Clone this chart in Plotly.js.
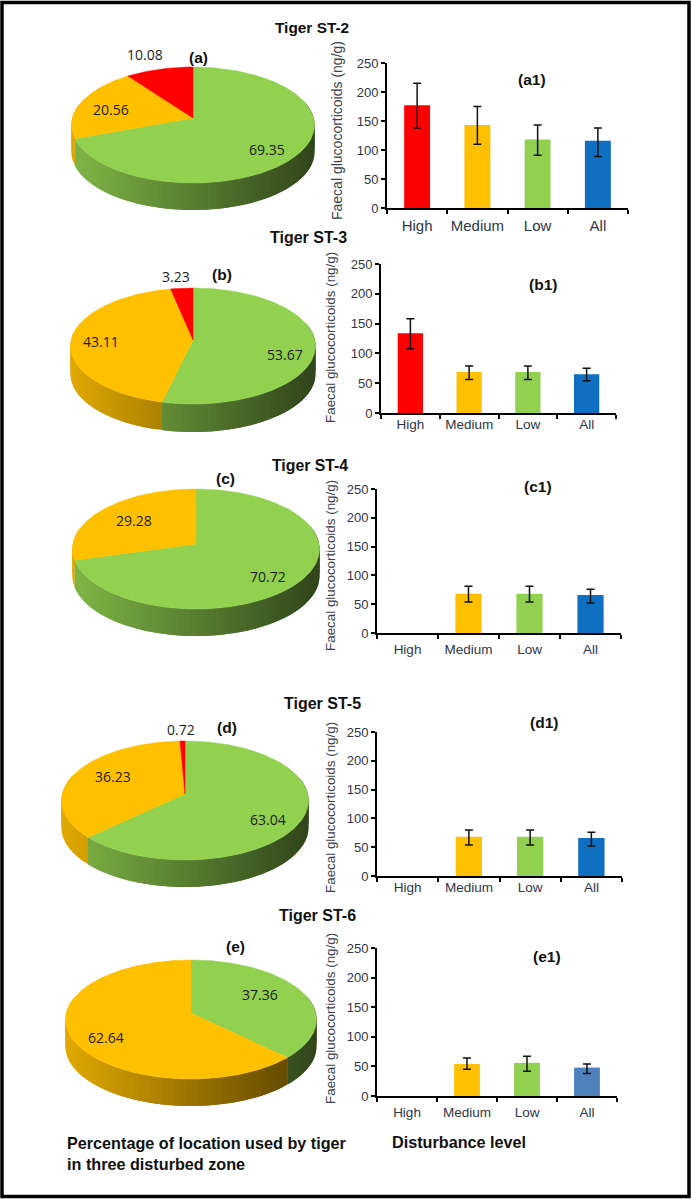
<!DOCTYPE html>
<html>
<head>
<meta charset="utf-8">
<script src="https://cdn.plot.ly/plotly-3.0.1.min.js"></script>
<style>html,body{margin:0;padding:0;background:#fff}#chart{width:691px;height:1199px}</style>
</head>
<body>
<div id="chart"></div>
<script>
// ---- data ----
var categories = ['High', 'Medium', 'Low', 'All'];

// pie shares, clockwise from 12 o'clock: Low (green), Medium (orange), High (red)
var st2Shares = [69.35, 20.56, 10.08];
var st3Shares = [53.67, 43.11, 3.23];
var st4Shares = [70.72, 29.28, 0];
var st5Shares = [63.04, 36.23, 0.72];
var st6Shares = [37.36, 62.64, 0];

// bars: High, Medium, Low, All
var st2Means = [177, 143, 118, 116];
var st2Upper = [215, 175, 143, 138];
var st2Lower = [138, 110, 91, 89];
var st3Means = [134, 69, 69, 65];
var st3Upper = [158, 79, 79, 75];
var st3Lower = [108, 56, 56, 54];
var st4Means = [null, 68, 68, 66];
var st4Upper = [null, 81, 81, 76];
var st4Lower = [null, 54, 54, 52];
var st5Means = [null, 68, 68, 66];
var st5Upper = [null, 80, 80, 76];
var st5Lower = [null, 54, 54, 52];
var st6Means = [null, 54, 56, 48];
var st6Upper = [null, 64, 67, 54];
var st6Lower = [null, 45, 42, 38];

var titles = ['Tiger ST-2', 'Tiger ST-3', 'Tiger ST-4', 'Tiger ST-5', 'Tiger ST-6'];
var pieTags = ['(a)', '(b)', '(c)', '(d)', '(e)'];
var barTags = ['(a1)', '(b1)', '(c1)', '(d1)', '(e1)'];
var yTitle = 'Faecal glucocorticoids (ng/g)';
var footLeft = 'Percentage of location used by tiger<br>in three disturbed zone';
var footRight = 'Disturbance level';

// ---- styles and placement (pixels of the 691x1199 page) ----
var W = 691, H = 1199;
var sliceRGB = [[146, 208, 80], [255, 192, 0], [255, 0, 0]];
var barColors = ['#ff0000', '#ffc000', '#92d050', '#0f6fc0'];
var tickColor = '#2e3648';

var panels = [
  {shares: st2Shares, means: st2Means, up: st2Upper, lo: st2Lower,
   cx: 193, cy: 118, top: 67, bot: 183, left: 71, right: 314, depth: 27,
   title: [312, 27], titleSize: 15.4, tag: [198, 57],
   vals: [[267, 149], [111, 109], [145, 54]],
   ax: {l: 387, r: 628, t: 63, b: 208}, barTag: [532, 79], catSize: 15, standoff: 3,
   yt: [337, 131, 14]},
  {shares: st3Shares, means: st3Means, up: st3Upper, lo: st3Lower,
   cx: 193, cy: 340, top: 288, bot: 404, left: 70, right: 315, depth: 28,
   title: [308, 237], titleSize: 16, tag: [222, 274],
   vals: [[285, 354], [101, 341], [176, 276]],
   ax: {l: 381, r: 616, t: 264, b: 413}, barTag: [543, 284], catSize: 13.5, standoff: -2,
   yt: [330, 338, 13.4]},
  {shares: st4Shares, means: st4Means, up: st4Upper, lo: st4Lower,
   cx: 196, cy: 544, top: 489, bot: 609, left: 72, right: 319, depth: 27,
   title: [310, 465], titleSize: 15.8, tag: [225, 478],
   vals: [[268, 576], [134, 520], null],
   ax: {l: 377, r: 621, t: 489, b: 633}, barTag: [538, 486], catSize: 13.5, standoff: 3,
   yt: [330, 566, 13.4]},
  {shares: st5Shares, means: st5Means, up: st5Upper, lo: st5Lower,
   cx: 185, cy: 794, top: 741, bot: 860, left: 62, right: 309, depth: 27,
   title: [322, 703], titleSize: 16, tag: [227, 727],
   vals: [[268, 819], [113, 776], [181, 729]],
   ax: {l: 377, r: 622, t: 732, b: 876}, barTag: [544, 722], catSize: 13.5, standoff: -2,
   yt: [330, 808, 13.4]},
  {shares: st6Shares, means: st6Means, up: st6Upper, lo: st6Lower,
   cx: 191, cy: 1013, top: 960, bot: 1079, left: 66, right: 317, depth: 27,
   title: [317, 915], titleSize: 16, tag: [235, 946],
   vals: [[260, 994], [106, 1037], null],
   ax: {l: 377, r: 617, t: 948, b: 1096}, barTag: [547, 956], catSize: 13.5, standoff: 3,
   yt: [330, 1019, 13.4], allColor: '#4f81bd'}
];

var traces = [];
var annotations = [];

function note(text, pos, size, opts) {
  var a = {text: text, x: pos[0], y: pos[1], xref: 'x', yref: 'y', showarrow: false,
           xanchor: 'center', yanchor: 'middle',
           font: {family: 'Liberation Sans, Arial, sans-serif', size: size, color: '#111'}};
  for (var k in (opts || {})) a[k] = opts[k];
  annotations.push(a);
}

// The pie is a tilted disc: a circle seen through a perspective mapping.
function disc(p) {
  var rt = p.cy - p.top, rb = p.bot - p.cy;
  var Ry = 2 / (1 / rt + 1 / rb);
  var k = Ry / rt - 1;
  var Rx = (p.right - p.left) / 2 * Math.sqrt(1 - k * k);
  return function (deg) {
    var a = deg * Math.PI / 180, X = Math.sin(a), Y = Math.cos(a), w = 1 + k * Y;
    return {x: p.cx + Rx * X / w, y: p.cy - Ry * Y / w, Y: Y};
  };
}

function poly(xs, ys, color, lineWidth) {
  traces.push({type: 'scatter', mode: 'lines', x: xs, y: ys, xaxis: 'x', yaxis: 'y',
    fill: 'toself', fillcolor: color, line: {color: color, width: lineWidth},
    hoverinfo: 'skip', showlegend: false});
}

panels.forEach(function (p, i) {
  var rim = disc(p);
  var total = p.shares.reduce(function (s, v) { return s + v; }, 0);
  var start = 0;
  var bounds = p.shares.map(function (v) {
    var b = [start, start + v / total * 360];
    start = b[1];
    return b;
  });

  // wall strips, shaded from left to right; each overlaps the next to hide seams
  var step = 2.5;
  bounds.forEach(function (b, si) {
    if (b[1] - b[0] <= 0) return;
    for (var d = b[0]; d < b[1]; d += step) {
      var mid = Math.min(d + step, b[1]);
      var e = Math.min(d + 2 * step, b[1]);
      var p0 = rim(d), pm = rim(mid), p1 = rim(e);
      if (p0.Y > 0.25 && p1.Y > 0.25) continue;
      var t = ((p0.x + pm.x) / 2 - p.left) / (p.right - p.left);
      var f = 0.88 - 0.55 * t;
      var c = sliceRGB[si];
      var col = 'rgb(' + Math.round(c[0] * f) + ',' + Math.round(c[1] * f) + ',' + Math.round(c[2] * f) + ')';
      poly([p0.x, pm.x, p1.x, p1.x, pm.x, p0.x, p0.x],
           [p0.y, pm.y, p1.y, p1.y + p.depth, pm.y + p.depth, p0.y + p.depth, p0.y], col, 0);
    }
  });

  // top faces
  bounds.forEach(function (b, si) {
    if (b[1] - b[0] <= 0) return;
    var xs = [p.cx], ys = [p.cy];
    var n = Math.max(2, Math.ceil(b[1] - b[0]));
    for (var j = 0; j <= n; j++) {
      var q = rim(b[0] + (b[1] - b[0]) * j / n);
      xs.push(q.x); ys.push(q.y);
    }
    xs.push(p.cx); ys.push(p.cy);
    var c = sliceRGB[si];
    poly(xs, ys, 'rgb(' + c.join(',') + ')', 0.5);
  });

  // pie labels
  note('<b>' + titles[i] + '</b>', p.title, p.titleSize);
  note('<b>' + pieTags[i] + '</b>', p.tag, 15.5);
  p.vals.forEach(function (pos, si) {
    if (pos) note(p.shares[si].toFixed(2), pos, 14,
      {font: {family: 'Open Sans, sans-serif', size: 14, color: '#1c1c1c'}});
  });

  // bar chart
  var n = i + 2;
  var xName = 'x' + n, yName = 'y' + n;
  var colors = barColors.slice();
  if (p.allColor) colors[3] = p.allColor;
  traces.push({
    type: 'bar', x: categories, y: p.means, xaxis: xName, yaxis: yName,
    width: 0.43, marker: {color: colors}, hoverinfo: 'x+y', showlegend: false,
    error_y: {type: 'data', symmetric: false,
      array: p.means.map(function (m, j) { return m === null ? null : p.up[j] - m; }),
      arrayminus: p.means.map(function (m, j) { return m === null ? null : m - p.lo[j]; }),
      color: '#111', thickness: 1.5, width: 4}
  });
  p.xLayout = {
    domain: [p.ax.l / W, p.ax.r / W], anchor: yName, type: 'category',
    categoryorder: 'array', categoryarray: categories, range: [-0.5, 3.5],
    showline: true, linecolor: '#000', linewidth: 2, showgrid: false, zeroline: false,
    ticks: 'outside', tickson: 'boundaries', ticklen: 4, tickwidth: 1.5, tickcolor: '#000',
    ticklabelstandoff: p.standoff, tickangle: 0, fixedrange: true,
    tickfont: {family: 'Liberation Sans, Arial, sans-serif', size: p.catSize, color: tickColor}
  };
  p.yLayout = {
    domain: [1 - p.ax.b / H, 1 - p.ax.t / H], anchor: xName, range: [0, 250], dtick: 50,
    showline: true, linecolor: '#000', linewidth: 2, showgrid: false, zeroline: false,
    ticks: 'outside', ticklen: 4, tickwidth: 1.5, tickcolor: '#000', fixedrange: true,
    tickfont: {family: 'Liberation Sans, Arial, sans-serif', size: 13, color: tickColor}
  };
  note('<b>' + barTags[i] + '</b>', p.barTag, 15.5);
  note(yTitle, [p.yt[0], p.yt[1]], p.yt[2], {textangle: -90,
    font: {family: 'Liberation Sans, Arial, sans-serif', size: p.yt[2], color: '#3a3f4a'}});
});

note('<b>' + footLeft + '</b>', [65, 1153], 16.2, {xanchor: 'left', align: 'left'});
note('<b>' + footRight + '</b>', [390, 1142], 16.2, {xanchor: 'left', align: 'left'});

var layout = {
  width: W, height: H, margin: {l: 0, r: 0, t: 0, b: 0},
  paper_bgcolor: '#fff', plot_bgcolor: 'rgba(0,0,0,0)', showlegend: false, bargap: 0.57,
  xaxis: {domain: [0, 1], range: [0, W], visible: false, fixedrange: true},
  yaxis: {domain: [0, 1], range: [H, 0], visible: false, fixedrange: true},
  annotations: annotations,
  shapes: [{type: 'rect', xref: 'x', yref: 'y', x0: 2, x1: 689, y0: 2.5, y1: 1196.5,
            line: {color: '#000', width: 3.5}, fillcolor: 'rgba(0,0,0,0)', layer: 'above'}]
};
panels.forEach(function (p, i) {
  layout['xaxis' + (i + 2)] = p.xLayout;
  layout['yaxis' + (i + 2)] = p.yLayout;
});

Plotly.newPlot('chart', traces, layout, {displayModeBar: false, responsive: false});
</script>
</body>
</html>
